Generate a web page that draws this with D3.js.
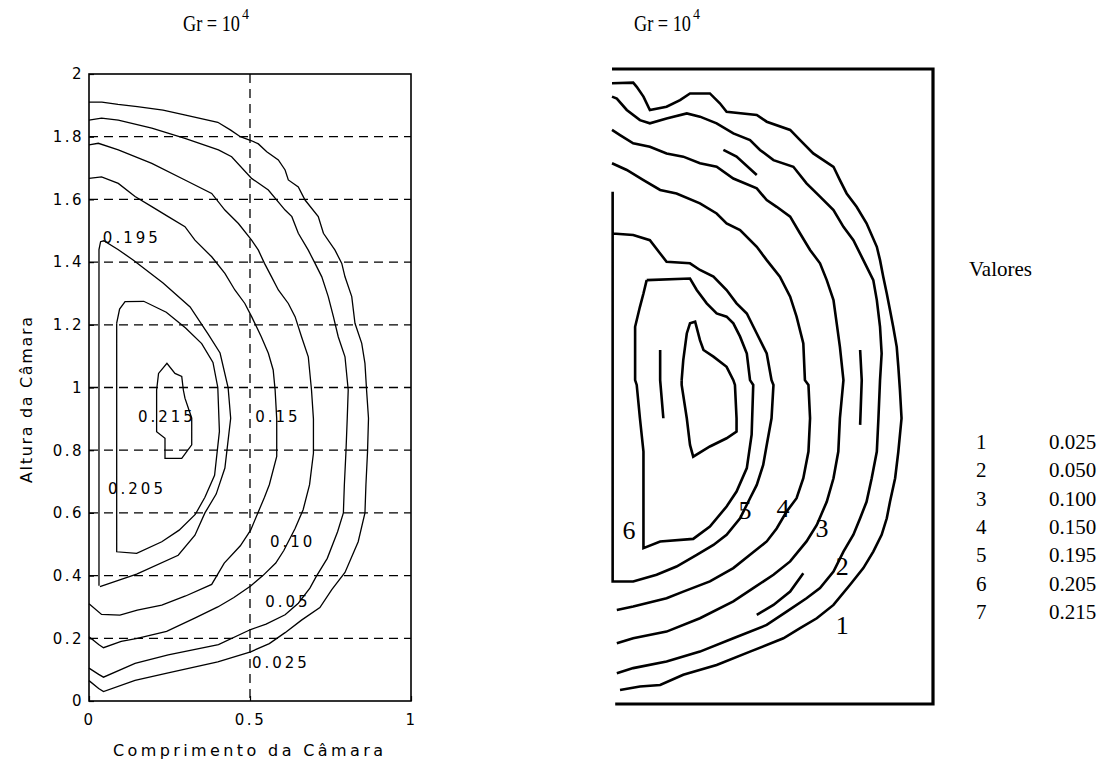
<!DOCTYPE html>
<html>
<head>
<meta charset="utf-8">
<script src="https://cdn.jsdelivr.net/npm/d3@7"></script>
<style>
  body { margin: 0; background: #fff; }
  .axis text { font-family: "DejaVu Sans", sans-serif; font-size: 15px; letter-spacing: 2.5px; fill: #000; }
  .axis line { stroke: #000; stroke-width: 1.2px; }
  .clabel { font-family: "DejaVu Sans", sans-serif; font-size: 15px; letter-spacing: 3px; fill: #000; }
  .serif { font-family: "Liberation Serif", "Times New Roman", serif; fill: #000; }
</style>
</head>
<body>
<div id="chart"></div>
<script>
// ---- left plot (matlab style contour) ----
var yTicks = [0, 0.2, 0.4, 0.6, 0.8, 1, 1.2, 1.4, 1.6, 1.8, 2];
var yTickLabels = ["0", "0.2", "0.4", "0.6", "0.8", "1", "1.2", "1.4", "1.6", "1.8", "2"];
var xTicks = [0, 0.5, 1];
var xTickLabels = ["0", "0.5", "1"];
var gridY = [0.2, 0.4, 0.6, 0.8, 1, 1.2, 1.4, 1.6, 1.8];
var gridX = [0.5];

var levels = [0.025, 0.05, 0.10, 0.15, 0.195, 0.205, 0.215];

var left025 = [[0,1.910],[0.04,1.910],[0.09,1.903],[0.15,1.896],[0.23,1.885],[0.30,1.869],[0.40,1.846],[0.44,1.821],[0.47,1.800],[0.505,1.787],[0.526,1.777],[0.552,1.752],[0.588,1.726],[0.609,1.694],[0.619,1.662],[0.650,1.640],[0.671,1.598],[0.712,1.545],[0.728,1.492],[0.764,1.438],[0.785,1.396],[0.795,1.353],[0.816,1.290],[0.826,1.205],[0.847,1.141],[0.857,1.077],[0.862,0.992],[0.868,0.902],[0.865,0.795],[0.860,0.689],[0.857,0.600],[0.836,0.508],[0.795,0.410],[0.754,0.355],[0.717,0.298],[0.660,0.258],[0.609,0.218],[0.560,0.183],[0.502,0.157],[0.40,0.125],[0.246,0.090],[0.143,0.066],[0.045,0.030],[0.030,0.040],[0,0.065]];
var left05 = [[0,1.853],[0.039,1.859],[0.091,1.853],[0.195,1.827],[0.298,1.795],[0.402,1.758],[0.443,1.736],[0.505,1.667],[0.557,1.630],[0.609,1.566],[0.630,1.545],[0.650,1.492],[0.681,1.438],[0.702,1.396],[0.723,1.353],[0.743,1.290],[0.759,1.226],[0.774,1.162],[0.795,1.098],[0.805,0.992],[0.802,0.902],[0.798,0.795],[0.793,0.689],[0.790,0.600],[0.772,0.540],[0.740,0.455],[0.705,0.396],[0.686,0.360],[0.650,0.312],[0.609,0.275],[0.550,0.245],[0.502,0.228],[0.402,0.180],[0.246,0.147],[0.143,0.120],[0.045,0.076],[0.030,0.085],[0,0.105]];
var left10 = [[0,1.774],[0.029,1.779],[0.091,1.758],[0.195,1.715],[0.298,1.662],[0.381,1.619],[0.422,1.566],[0.464,1.523],[0.505,1.470],[0.526,1.438],[0.545,1.396],[0.567,1.353],[0.588,1.311],[0.619,1.268],[0.640,1.226],[0.660,1.162],[0.681,1.098],[0.691,0.992],[0.697,0.900],[0.697,0.790],[0.685,0.690],[0.665,0.610],[0.640,0.550],[0.605,0.480],[0.580,0.440],[0.540,0.400],[0.502,0.367],[0.45,0.330],[0.40,0.300],[0.33,0.265],[0.241,0.222],[0.15,0.200],[0.10,0.190],[0.045,0.170],[0.030,0.180],[0,0.205]];
var left15 = [[0,1.667],[0.039,1.672],[0.091,1.651],[0.143,1.609],[0.195,1.577],[0.246,1.545],[0.298,1.513],[0.329,1.470],[0.381,1.417],[0.422,1.364],[0.453,1.311],[0.484,1.268],[0.505,1.226],[0.535,1.162],[0.557,1.109],[0.572,1.056],[0.578,0.992],[0.583,0.900],[0.583,0.780],[0.560,0.690],[0.545,0.650],[0.502,0.545],[0.470,0.495],[0.420,0.440],[0.381,0.372],[0.300,0.335],[0.226,0.306],[0.150,0.290],[0.096,0.274],[0.039,0.276],[0,0.310]];
var left195 = [[0.031,0.368],[0.031,1.440],[0.036,1.465],[0.046,1.468],[0.09,1.440],[0.137,1.407],[0.23,1.333],[0.314,1.257],[0.370,1.170],[0.407,1.110],[0.432,1.000],[0.440,0.902],[0.422,0.743],[0.395,0.660],[0.360,0.600],[0.329,0.529],[0.277,0.465],[0.148,0.405],[0.034,0.365]];
var left205 = [[0.086,1.205],[0.095,1.250],[0.112,1.274],[0.170,1.275],[0.240,1.240],[0.300,1.190],[0.350,1.140],[0.385,1.080],[0.400,1.000],[0.405,0.860],[0.390,0.720],[0.360,0.650],[0.330,0.595],[0.280,0.545],[0.226,0.508],[0.148,0.471],[0.086,0.476],[0.086,1.205]];
var left215 = [[0.210,0.992],[0.216,1.045],[0.242,1.077],[0.267,1.045],[0.288,1.035],[0.293,0.992],[0.298,0.966],[0.319,0.902],[0.319,0.817],[0.288,0.774],[0.236,0.774],[0.236,0.838],[0.210,0.859],[0.210,0.992]];
var leftContours = [left025, left05, left10, left15, left195, left205, left215];

var leftLabels = [
  {text: "0.195", x: 0.043, y: 1.477},
  {text: "0.215", x: 0.152, y: 0.906},
  {text: "0.15", x: 0.516, y: 0.906},
  {text: "0.205", x: 0.059, y: 0.679},
  {text: "0.10", x: 0.562, y: 0.507},
  {text: "0.05", x: 0.547, y: 0.316},
  {text: "0.025", x: 0.506, y: 0.124}
];

// ---- right plot (scanned drawing) ----
var right1 = [[0,1.955],[0.066,1.957],[0.077,1.944],[0.098,1.913],[0.118,1.871],[0.170,1.881],[0.212,1.902],[0.243,1.923],[0.305,1.923],[0.336,1.892],[0.357,1.865],[0.451,1.855],[0.482,1.834],[0.555,1.808],[0.586,1.776],[0.627,1.734],[0.690,1.692],[0.710,1.650],[0.731,1.608],[0.762,1.566],[0.793,1.514],[0.825,1.440],[0.835,1.398],[0.845,1.346],[0.856,1.293],[0.866,1.241],[0.876,1.188],[0.887,1.125],[0.892,1.062],[0.897,0.989],[0.902,0.900],[0.892,0.795],[0.882,0.711],[0.866,0.637],[0.856,0.585],[0.840,0.533],[0.814,0.480],[0.783,0.428],[0.741,0.375],[0.690,0.312],[0.638,0.270],[0.586,0.239],[0.534,0.207],[0.430,0.165],[0.326,0.123],[0.222,0.092],[0.150,0.060],[0.087,0.055],[0.025,0.044]];
var right2 = [[0,1.913],[0.015,1.907],[0.046,1.871],[0.087,1.839],[0.118,1.829],[0.170,1.844],[0.233,1.860],[0.274,1.850],[0.326,1.829],[0.378,1.797],[0.430,1.776],[0.461,1.745],[0.503,1.713],[0.565,1.692],[0.606,1.640],[0.648,1.598],[0.690,1.556],[0.721,1.503],[0.752,1.461],[0.783,1.398],[0.814,1.335],[0.825,1.272],[0.835,1.188],[0.840,1.104],[0.835,1.020],[0.830,0.900],[0.825,0.795],[0.809,0.711],[0.793,0.637],[0.773,0.585],[0.752,0.533],[0.721,0.480],[0.690,0.417],[0.648,0.365],[0.606,0.333],[0.544,0.291],[0.482,0.249],[0.378,0.207],[0.274,0.165],[0.170,0.134],[0.066,0.113],[0.015,0.097]];
var right3 = [[0,1.808],[0.025,1.792],[0.066,1.766],[0.118,1.755],[0.170,1.734],[0.222,1.724],[0.274,1.703],[0.326,1.692],[0.378,1.655],[0.451,1.624],[0.482,1.587],[0.513,1.566],[0.555,1.535],[0.586,1.482],[0.617,1.430],[0.648,1.388],[0.669,1.335],[0.690,1.272],[0.700,1.199],[0.710,1.125],[0.721,1.020],[0.710,0.900],[0.705,0.795],[0.690,0.711],[0.669,0.637],[0.638,0.564],[0.606,0.512],[0.555,0.449],[0.503,0.407],[0.440,0.365],[0.378,0.323],[0.274,0.270],[0.170,0.228],[0.066,0.207],[0.015,0.191]];
var right4 = [[0,1.703],[0.046,1.682],[0.098,1.650],[0.150,1.619],[0.201,1.608],[0.274,1.577],[0.326,1.545],[0.357,1.514],[0.399,1.493],[0.451,1.440],[0.482,1.398],[0.523,1.346],[0.555,1.283],[0.575,1.220],[0.596,1.136],[0.601,1.020],[0.612,1.005],[0.617,0.900],[0.612,0.795],[0.596,0.711],[0.575,0.648],[0.544,0.606],[0.513,0.553],[0.482,0.512],[0.430,0.470],[0.378,0.428],[0.305,0.386],[0.222,0.354],[0.170,0.333],[0.066,0.307],[0.015,0.296]];
var right5 = [[0.002,1.613],[0.002,0.386],[0.066,0.386],[0.139,0.407],[0.201,0.433],[0.264,0.470],[0.316,0.501],[0.357,0.533],[0.399,0.585],[0.430,0.648],[0.451,0.690],[0.471,0.753],[0.482,0.816],[0.497,0.900],[0.503,1.005],[0.497,1.020],[0.482,1.104],[0.451,1.167],[0.420,1.230],[0.388,1.262],[0.357,1.304],[0.316,1.346],[0.274,1.367],[0.243,1.388],[0.170,1.393],[0.150,1.419],[0.118,1.461],[0.066,1.477],[0.002,1.482]];
var right6 = [[0.108,1.335],[0.098,1.293],[0.087,1.251],[0.072,1.188],[0.072,1.020],[0.077,1.005],[0.087,0.900],[0.098,0.795],[0.098,0.491],[0.150,0.512],[0.253,0.520],[0.305,0.559],[0.357,0.622],[0.388,0.669],[0.420,0.743],[0.435,0.848],[0.440,1.005],[0.430,1.020],[0.420,1.104],[0.399,1.157],[0.378,1.199],[0.357,1.220],[0.326,1.230],[0.295,1.262],[0.264,1.304],[0.243,1.340],[0.108,1.335]];
var right7 = [[0.217,1.020],[0.222,1.083],[0.233,1.167],[0.243,1.199],[0.259,1.204],[0.274,1.146],[0.285,1.115],[0.316,1.094],[0.357,1.062],[0.378,1.020],[0.383,1.005],[0.388,0.900],[0.388,0.858],[0.357,0.837],[0.305,0.811],[0.253,0.779],[0.243,0.816],[0.233,0.900],[0.217,1.005],[0.217,1.020]];
// loose dashes of the scan
var rightBits = [
  [[0.347,1.745],[0.388,1.724],[0.451,1.666]],
  [[0.773,1.115],[0.778,1.020],[0.773,0.879]],
  [[0.451,0.281],[0.503,0.312],[0.555,0.354],[0.596,0.412]],
  [[0.150,1.115],[0.150,1.020],[0.160,0.900]]
];
var rightContours = [right1, right2, right3, right4, right5, right6, right7];

var rightLabels = [
  {text: "1", x: 0.717, y: 0.249},
  {text: "2", x: 0.717, y: 0.435},
  {text: "3", x: 0.654, y: 0.554},
  {text: "4", x: 0.533, y: 0.617},
  {text: "5", x: 0.414, y: 0.611},
  {text: "6", x: 0.053, y: 0.548}
];

var legendNums = ["1", "2", "3", "4", "5", "6", "7"];
var legendVals = ["0.025", "0.050", "0.100", "0.150", "0.195", "0.205", "0.215"];

var svg = d3.select("#chart")
    .append("svg")
    .attr("width", 1101)
    .attr("height", 765);

// ================= left =================
var xL = d3.scaleLinear().domain([0, 1]).range([89, 411]);
var yL = d3.scaleLinear().domain([0, 2]).range([701, 74]);

var left = svg.append("g");

left.selectAll(".gy")
    .data(gridY)
    .join("line")
    .attr("x1", xL(0)).attr("x2", xL(1))
    .attr("y1", d => yL(d)).attr("y2", d => yL(d))
    .attr("stroke", "#000").attr("stroke-width", 1.3)
    .attr("stroke-dasharray", "9,6");

left.selectAll(".gx")
    .data(gridX)
    .join("line")
    .attr("x1", d => xL(d)).attr("x2", d => xL(d))
    .attr("y1", yL(2)).attr("y2", yL(0))
    .attr("stroke", "#000").attr("stroke-width", 1.3)
    .attr("stroke-dasharray", "9,6");

var lineL = d3.line().x(d => xL(d[0])).y(d => yL(d[1]));

left.selectAll(".cl")
    .data(leftContours)
    .join("path")
    .attr("d", lineL)
    .attr("fill", "none")
    .attr("stroke", "#000")
    .attr("stroke-width", 1.3);

left.selectAll(".lab")
    .data(leftLabels)
    .join("text")
    .attr("class", "clabel")
    .attr("x", d => xL(d.x))
    .attr("y", d => yL(d.y))
    .attr("dy", "0.36em")
    .text(d => d.text);

left.append("rect")
    .attr("x", xL(0)).attr("y", yL(2))
    .attr("width", xL(1) - xL(0)).attr("height", yL(0) - yL(2))
    .attr("fill", "none").attr("stroke", "#000").attr("stroke-width", 1.6);

var leftAxis = d3.axisLeft(yL).tickValues(yTicks).tickSize(-5).tickPadding(5)
    .tickFormat((d, i) => yTickLabels[i]);
var bottomAxis = d3.axisBottom(xL).tickValues(xTicks).tickSize(-5).tickPadding(13)
    .tickFormat((d, i) => xTickLabels[i]);

left.append("g").attr("class", "axis")
    .attr("transform", `translate(${xL(0)},0)`)
    .call(leftAxis)
    .call(g => g.select(".domain").remove());

left.append("g").attr("class", "axis")
    .attr("transform", `translate(0,${yL(0)})`)
    .call(bottomAxis)
    .call(g => g.select(".domain").remove());

left.append("text")
    .attr("class", "clabel")
    .attr("x", 113).attr("y", 756)
    .attr("textLength", 270).attr("lengthAdjust", "spacing")
    .style("letter-spacing", "0px")
    .style("font-size", "16px")
    .text("Comprimento da Câmara");

left.append("text")
    .attr("class", "clabel")
    .attr("transform", "translate(32,483) rotate(-90)")
    .attr("textLength", 166).attr("lengthAdjust", "spacing")
    .style("letter-spacing", "0px")
    .style("font-size", "16px")
    .text("Altura da Câmara");

// ================= right =================
var xR = d3.scaleLinear().domain([0, 1]).range([612, 933]);
var yR = d3.scaleLinear().domain([0, 2]).range([704, 69]);

var right = svg.append("g");
var lineR = d3.line().x(d => xR(d[0])).y(d => yR(d[1]));

right.selectAll(".cr")
    .data(rightContours.concat(rightBits))
    .join("path")
    .attr("d", lineR)
    .attr("fill", "none")
    .attr("stroke", "#000")
    .attr("stroke-width", 2.6)
    .attr("stroke-linejoin", "miter");

// open box: top, right, bottom
right.append("path")
    .attr("d", `M${xR(0)},${yR(2)}H${xR(1)}V${yR(0)}H${xR(0.01)}`)
    .attr("fill", "none").attr("stroke", "#000").attr("stroke-width", 3.2);

right.selectAll(".rl")
    .data(rightLabels)
    .join("text")
    .attr("class", "serif")
    .attr("x", d => xR(d.x))
    .attr("y", d => yR(d.y))
    .attr("dy", "0.35em")
    .attr("text-anchor", "middle")
    .style("font-size", "26px")
    .text(d => d.text);

// legend
var legend = svg.append("g").attr("class", "serif").style("font-size", "21px");
legend.append("text").attr("x", 969).attr("y", 276).text("Valores");
legend.selectAll(".ln")
    .data(legendNums)
    .join("text")
    .attr("x", 976)
    .attr("y", (d, i) => 449 + i * 28.3)
    .text(d => d);
legend.selectAll(".lv")
    .data(legendVals)
    .join("text")
    .attr("x", 1049)
    .attr("y", (d, i) => 449 + i * 28.3)
    .text(d => d);

// titles (narrow glyphs, squeezed with a transform)
[183, 634].forEach(x0 => {
    var t = svg.append("g").attr("class", "serif");
    var main = t.append("text")
        .style("font-size", "24px")
        .text("Gr = 10");
    var w = main.node().getComputedTextLength();
    main.attr("transform", `translate(${x0},31) scale(${57 / w},1)`);
    t.append("text").attr("x", x0 + 59).attr("y", 19)
        .style("font-size", "14px")
        .text("4");
});
</script>
</body>
</html>
